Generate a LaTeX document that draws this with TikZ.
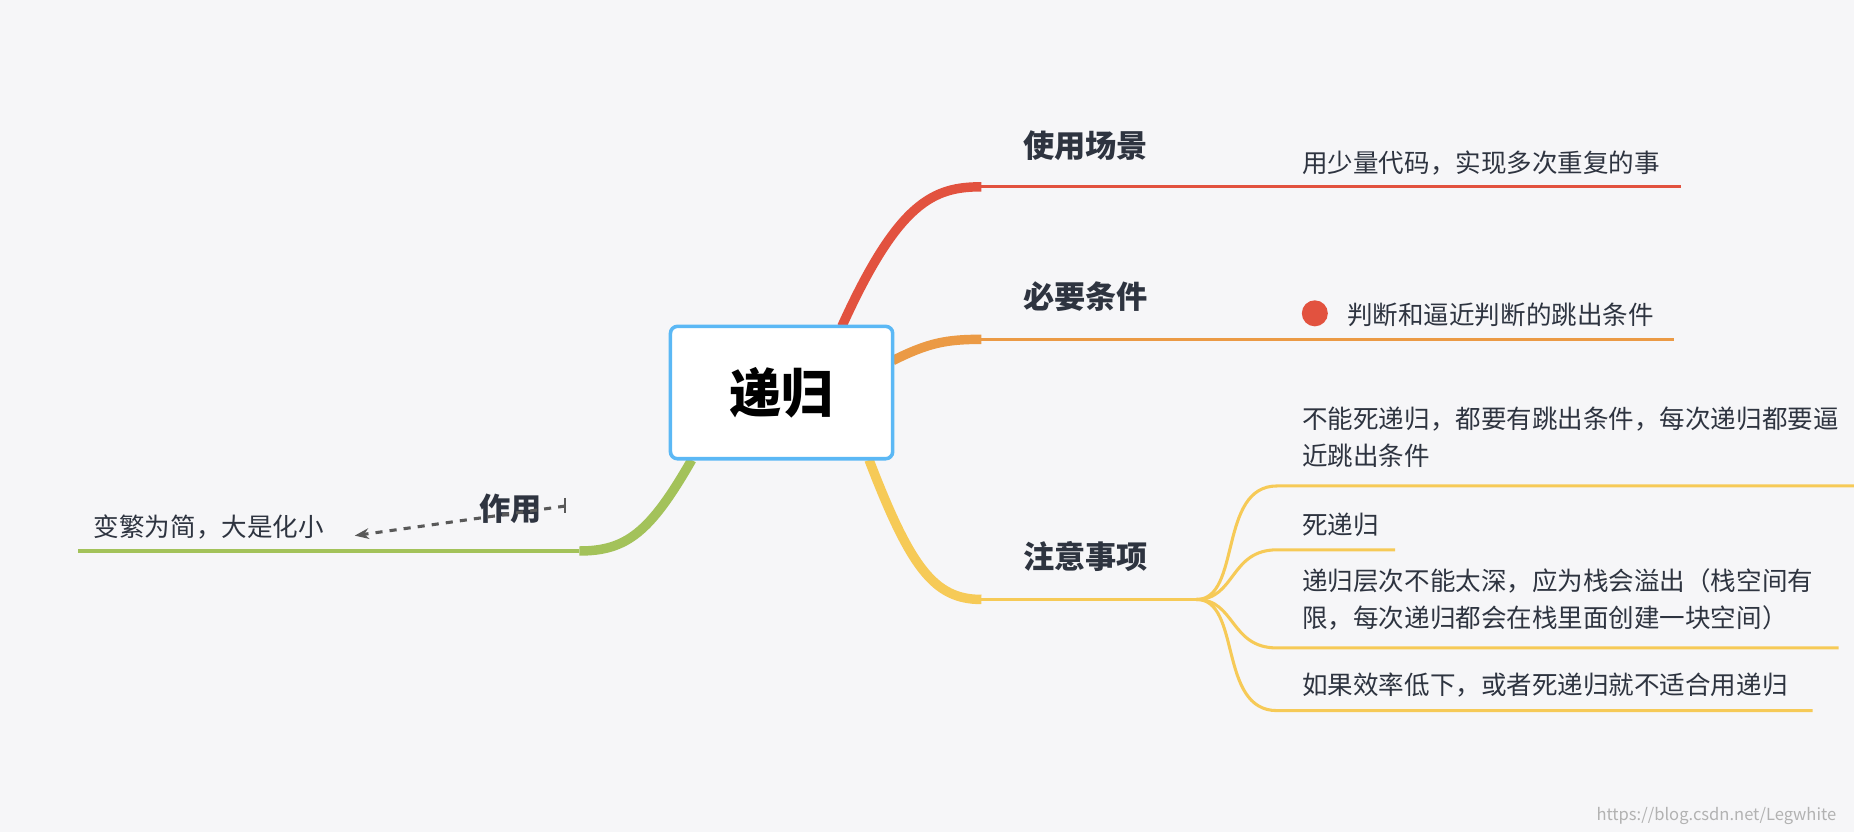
\documentclass[tikz,border=0pt]{standalone}
\usepackage{fontspec}
\newfontfamily\cjk{Noto Sans CJK SC}
\usetikzlibrary{arrows.meta}
\definecolor{bg}{HTML}{F6F6F8}
\definecolor{cred}{HTML}{E2523F}
\definecolor{corg}{HTML}{EB9A45}
\definecolor{cyel}{HTML}{F6CA57}
\definecolor{cgrn}{HTML}{A3C25A}
\definecolor{cblue}{HTML}{5BB8F5}
\definecolor{txt}{HTML}{2E3440}
\begin{document}
\begin{tikzpicture}[x=0.5pt,y=-0.5pt,
  lbl/.style={font=\cjk\bfseries\fontsize{13.2}{15}\selectfont,text=txt,anchor=center},
  leaf/.style={font=\cjk\fontsize{10.8}{15.5}\selectfont,text=txt,anchor=west,align=left,inner sep=0pt},
  trunk/.style={line width=4pt},
  twig/.style={line width=1.3pt}]
\fill[bg] (0,0) rectangle (1568,704);
\useasboundingbox (0,0) rectangle (1568,704);
% branches
\draw[cred,trunk] (712,276) .. controls (760,170) and (790,158) .. (830,158);
\draw[cred,twig] (830,158) -- (1422,158);
\draw[corg,trunk] (755,305) .. controls (785,290) and (800,287) .. (830,287);
\draw[corg,twig] (830,287) -- (1416,287);
\draw[cyel,trunk] (735,389) .. controls (770,480) and (790,507) .. (830,507);
\draw[cyel,twig] (830,507) -- (1012,507);
\draw[cgrn,trunk] (585,389) .. controls (550,450) and (530,466) .. (490,466);
\draw[cgrn,twig] (490,466) -- (66,466);
% yellow children
\coordinate (yj) at (1012,507);
\draw[cyel,twig] (yj) .. controls (1050,507) and (1030,411) .. (1080,411) -- (1568,411);
\draw[cyel,twig] (yj) .. controls (1045,507) and (1040,465) .. (1080,465) -- (1180,465);
\draw[cyel,twig] (yj) .. controls (1045,507) and (1040,548) .. (1080,548) -- (1555,548);
\draw[cyel,twig] (yj) .. controls (1050,507) and (1030,601) .. (1080,601) -- (1533,601);
% central
\node[draw=cblue,line width=1.5pt,fill=white,rounded corners=3pt,minimum width=94pt,minimum height=56pt,font=\cjk\bfseries\fontsize{22}{24}\selectfont] (c) at (661,332) {递归};
% labels
\node[lbl] (a) at (918,123) {使用场景};
\node[lbl] (b) at (918,251) {必要条件};
\node[lbl] (d) at (918,471) {注意事项};
\node[lbl] (e) at (432,430) {作用};
\node[leaf] (a1) at (1101,138) {用少量代码，实现多次重复的事};
\fill[cred] (1112,265) circle (5.5pt);
\node[leaf] (b1) at (1139,266) {判断和逼近判断的跳出条件};
\node[leaf] (d1) at (1101,370) {不能死递归，都要有跳出条件，每次递归都要逼\\近跳出条件};
\node[leaf] (d2) at (1101,444) {死递归};
\node[leaf] (d3) at (1101,507) {递归层次不能太深，应为栈会溢出（栈空间有\\限，每次递归都会在栈里面创建一块空间）};
\node[leaf] (d4) at (1101,579) {如果效率低下，或者死递归就不适合用递归};
\node[leaf] (e1) at (79,446) {变繁为简，大是化小};
\coordinate (t) at (478,428);
\draw[gray!70!black,line width=1pt] (478,421) -- (478,434);
\draw[gray!70!black,line width=1.3pt,dashed,-{Stealth[length=6pt]}] (t) -- (300,453);
\node[font=\cjk\fontsize{7}{8}\selectfont,text=gray!60,anchor=east] at (1560,690) {https://blog.csdn.net/Legwhite};
\end{tikzpicture}
\end{document}
